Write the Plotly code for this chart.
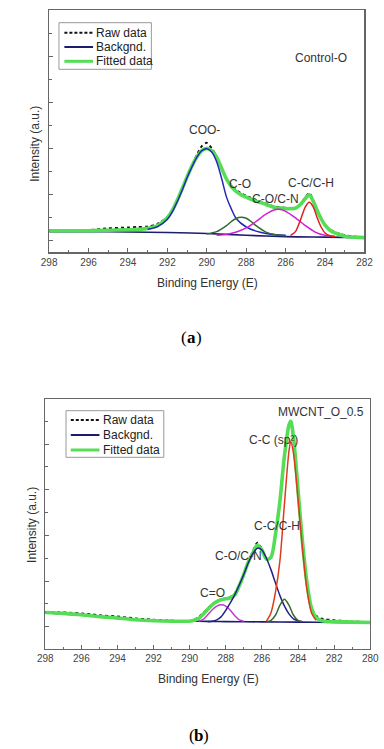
import plotly.graph_objects as go

# ---------------- (a) Control-O ----------------
xa = [298, 297, 296, 295, 294, 293.5, 293, 292.5, 292, 291.75, 291.5, 291.25, 291, 290.75, 290.5,
      290.25, 290, 289.75, 289.5, 289.25, 289, 288.75, 288.5, 288.25, 288, 287.75, 287.5, 287.25,
      287, 286.75, 286.5, 286.25, 286, 285.75, 285.5, 285.25, 285, 284.8, 284.6, 284.4, 284.2, 284,
      283.75, 283.5, 283.25, 283, 282.5, 282]
fit_a = [0.22, 0.22, 0.22, 0.23, 0.24, 0.25, 0.27, 0.33, 0.50, 0.66, 0.88, 1.13, 1.39, 1.63, 1.83,
         1.96, 2.01, 1.96, 1.82, 1.58, 1.34, 1.18, 1.07, 1.00, 0.95, 0.90, 0.86, 0.83,
         0.79, 0.75, 0.72, 0.71, 0.70, 0.70, 0.71, 0.79, 0.92, 1.00, 0.86, 0.66, 0.48, 0.34,
         0.23, 0.17, 0.13, 0.10, 0.08, 0.07]
raw_a = [0.23, 0.22, 0.23, 0.27, 0.29, 0.30, 0.31, 0.37, 0.52, 0.67, 0.88, 1.12, 1.38, 1.64, 1.87,
         2.06, 2.13, 2.01, 1.83, 1.58, 1.35, 1.21, 1.10, 1.03, 0.98, 0.93, 0.89, 0.85,
         0.81, 0.77, 0.74, 0.73, 0.72, 0.70, 0.70, 0.79, 0.94, 1.04, 0.88, 0.67, 0.48, 0.34,
         0.24, 0.19, 0.15, 0.12, 0.09, 0.08]
bg_a_x = [298, 296, 294, 292, 290, 288, 286, 284, 282]
bg_a = [0.20, 0.20, 0.19, 0.18, 0.16, 0.12, 0.09, 0.08, 0.07]

coo_x = [293, 292.5, 292, 291.75, 291.5, 291.25, 291, 290.75, 290.5, 290.25, 290, 289.75, 289.5,
         289.25, 289, 288.75, 288.5, 288, 287.5, 287, 286.5, 286]
coo_y = [0.25, 0.31, 0.47, 0.63, 0.85, 1.10, 1.37, 1.61, 1.82, 1.96, 2.00, 1.93, 1.72,
         1.36, 0.95, 0.69, 0.48, 0.30, 0.21, 0.16, 0.13, 0.12]
co_x = [290, 289.5, 289, 288.75, 288.5, 288.25, 288, 287.75, 287.5, 287, 286.5, 286]
co_y = [0.15, 0.20, 0.33, 0.42, 0.49, 0.51, 0.49, 0.42, 0.33, 0.19, 0.13, 0.11]
con_a_x = [289.5, 289, 288.5, 288, 287.5, 287, 286.5, 286.25, 286, 285.5, 285, 284.5, 284, 283.5]
con_a_y = [0.12, 0.14, 0.19, 0.28, 0.42, 0.58, 0.68, 0.68, 0.64, 0.50, 0.33, 0.19, 0.12, 0.10]
cc_a_x = [285.75, 285.5, 285.25, 285, 284.8, 284.6, 284.4, 284.2, 284, 283.75, 283.5]
cc_a_y = [0.12, 0.20, 0.45, 0.74, 0.84, 0.74, 0.50, 0.30, 0.17, 0.11, 0.09]

# ---------------- (b) MWCNT_O_0.5 ----------------
xb = [298, 297, 296, 295, 294, 293, 292, 291, 290, 289.75, 289.5, 289.25, 289, 288.75, 288.5,
      288.25, 288, 287.75, 287.5, 287.25, 287, 286.75, 286.5, 286.25, 286, 285.75, 285.5, 285.25,
      285, 284.75, 284.5, 284.4, 284.25, 284, 283.75, 283.5, 283.25, 283, 282.75, 282.5, 282, 281, 280]
fit_b = [0.31, 0.29, 0.26, 0.22, 0.19, 0.15, 0.13, 0.12, 0.12, 0.14, 0.18, 0.27, 0.38, 0.48, 0.55,
         0.59, 0.61, 0.63, 0.70, 0.90, 1.15, 1.42, 1.62, 1.79, 1.68, 1.48, 1.52, 2.02,
         2.76, 3.75, 4.42, 4.50, 4.15, 3.00, 1.85, 0.95, 0.40, 0.20, 0.14, 0.12, 0.11, 0.10, 0.09]
raw_b = [0.32, 0.31, 0.29, 0.25, 0.22, 0.18, 0.15, 0.13, 0.12, 0.15, 0.21, 0.30, 0.40, 0.49, 0.56,
         0.60, 0.62, 0.65, 0.73, 0.92, 1.16, 1.43, 1.65, 1.84, 1.70, 1.49, 1.52, 2.02,
         2.76, 3.75, 4.42, 4.50, 4.15, 3.00, 1.85, 0.95, 0.42, 0.24, 0.18, 0.16, 0.14, 0.11, 0.10]
bg_b_x = [298, 296, 294, 292, 290, 289, 288, 286, 284, 282, 280]
bg_b = [0.30, 0.25, 0.18, 0.13, 0.12, 0.115, 0.11, 0.105, 0.10, 0.09, 0.08]

ceo_x = [289.5, 289.25, 289, 288.75, 288.5, 288.25, 288, 287.75, 287.5, 287.25, 287]
ceo_y = [0.12, 0.16, 0.26, 0.37, 0.45, 0.48, 0.45, 0.36, 0.24, 0.15, 0.12]
con_b_x = [289, 288.75, 288.5, 288.25, 288, 287.75, 287.5, 287.25, 287, 286.75, 286.5, 286.25, 286,
           285.75, 285.5, 285.25, 285, 284.75, 284.5, 284.25, 284, 283.75]
con_b_y = [0.11, 0.12, 0.15, 0.22, 0.36, 0.52, 0.70, 0.92, 1.15, 1.40, 1.60, 1.72, 1.68,
           1.50, 1.25, 0.96, 0.68, 0.45, 0.28, 0.17, 0.13, 0.11]
cch_b_x = [285.75, 285.5, 285.25, 285, 284.75, 284.5, 284.25, 284, 283.75]
cch_b_y = [0.11, 0.14, 0.25, 0.47, 0.60, 0.47, 0.25, 0.14, 0.11]
sp2_x = [285.75, 285.5, 285.25, 285, 284.75, 284.5, 284.4, 284.25, 284, 283.75, 283.5, 283.25, 283]
sp2_y = [0.12, 0.30, 0.75, 1.45, 2.70, 3.85, 4.06, 3.80, 2.80, 1.70, 0.80, 0.30, 0.14]

xticks_a = [298, 296, 294, 292, 290, 288, 286, 284, 282]
xticks_b = [298, 296, 294, 292, 290, 288, 286, 284, 282, 280]
legend_labels = ["Raw data", "Backgnd.", "Fitted data"]

GREEN = "#55dd55"
NAVY = "#1c1c70"
BLACK = "#111111"
FONT = "Arial, Liberation Sans, sans-serif"
SERIF = "Liberation Serif, serif"
W, H = 384, 749


def PX(x):
    return x / W


def PY(y):
    return 1 - y / H


fig = go.Figure()


def line(x, y, color, width, xa_, ya_, dash=None):
    fig.add_trace(go.Scatter(
        x=x, y=y, mode="lines", xaxis=xa_, yaxis=ya_, showlegend=False, hoverinfo="skip",
        line=dict(color=color, width=width, dash=dash, shape="spline", smoothing=0.8)))


# (a) traces: raw underneath, then background, fit, components
line(xa, raw_a, BLACK, 2, "x", "y", dash="3px,3px")
line(bg_a_x, bg_a, NAVY, 1.6, "x", "y")
line(xa, fit_a, GREEN, 3.6, "x", "y")
line(coo_x, coo_y, "#2626b8", 1.5, "x", "y")
line(co_x, co_y, "#2f6a32", 1.5, "x", "y")
line(con_a_x, con_a_y, "#d41cd4", 1.5, "x", "y")
line(cc_a_x, cc_a_y, "#e01e1e", 1.5, "x", "y")

# (b) traces
line(xb, raw_b, BLACK, 2, "x2", "y2", dash="3px,3px")
line(bg_b_x, bg_b, NAVY, 1.6, "x2", "y2")
line(xb, fit_b, GREEN, 3.6, "x2", "y2")
line(ceo_x, ceo_y, "#c03cd0", 1.5, "x2", "y2")
line(con_b_x, con_b_y, "#22228a", 1.5, "x2", "y2")
line(cch_b_x, cch_b_y, "#3b6a2c", 1.5, "x2", "y2")
line(sp2_x, sp2_y, "#dc3a1c", 1.5, "x2", "y2")

axis_common = dict(showline=True, mirror=True, linecolor="#666", linewidth=1.2,
                   showgrid=False, zeroline=False, ticks="inside", tickcolor="#666",
                   ticklen=4, tickwidth=1)
xfont = dict(family=FONT, size=10, color="#444")

fig.update_layout(
    width=W, height=H, margin=dict(l=0, r=0, t=0, b=0),
    paper_bgcolor="white", plot_bgcolor="white", showlegend=False,
    xaxis=dict(domain=[PX(43), PX(373)], range=[298, 282], tickvals=xticks_a,
               ticktext=[str(v) for v in xticks_a], tickfont=xfont, anchor="y",
               minor=dict(dtick=1, ticks="inside", ticklen=2.5, tickcolor="#666"), **axis_common),
    yaxis=dict(domain=[PY(252.3), PY(10)], range=[-0.25, 5.02], dtick=1, showticklabels=False,
               anchor="x", minor=dict(dtick=0.5, ticks="inside", ticklen=2.5, tickcolor="#666"),
               **axis_common),
    xaxis2=dict(domain=[PX(39), PX(379)], range=[298, 280], tickvals=xticks_b,
                ticktext=[str(v) for v in xticks_b], tickfont=xfont, anchor="y2",
                minor=dict(dtick=1, ticks="inside", ticklen=2.5, tickcolor="#666"), **axis_common),
    yaxis2=dict(domain=[PY(649), PY(399)], range=[-0.49, 4.99], dtick=1, showticklabels=False,
                anchor="x2", minor=dict(dtick=0.5, ticks="inside", ticklen=2.5, tickcolor="#666"),
                **axis_common),
)

ann = []


def text(t, x, y, size=12, color="#333", angle=0, xanchor="center", family=FONT, weight="normal"):
    ann.append(dict(text=t, x=PX(x), y=PY(y), xref="paper", yref="paper", showarrow=False,
                    xanchor=xanchor, yanchor="middle", textangle=angle,
                    font=dict(family=family, size=size, color=color, weight=weight)))


def panel_label(letter, cx, cy):
    text("(", cx - 7.4, cy, size=17, color="#000", family=SERIF)
    text(letter, cx, cy, size=17, color="#000", family=SERIF, weight="bold")
    text(")", cx + 7.6, cy, size=17, color="#000", family=SERIF)


# (a) texts
text("COO-", 206, 130)
text("C-O", 243, 184)
text("C-O/C-N", 280, 199)
text("C-C/C-H", 317, 183)
text("Control-O", 328, 58)
text("Binding Energy (E)", 208.5, 283)
text("Intensity (a.u.)", 28.3, 143.7, angle=-90)
panel_label("a", 192, 337)

# (b) texts
text("MWCNT_O_0.5", 328, 412)
text("C-C (sp²)", 277.5, 440)
text("C-C/C-H", 281.7, 526)
text("C-O/C-N", 241.7, 555.7)
text("C=O", 213.7, 592.7)
text("Binding Energy (E)", 209.7, 679)
text("Intensity (a.u.)", 25, 525, angle=-90)
panel_label("b", 199.5, 735)

shapes = []


def legend_box(x0, x1, y0, y1, rows, lx0, lx1, tx):
    shapes.append(dict(type="rect", xref="paper", yref="paper", x0=PX(x0), x1=PX(x1),
                       y0=PY(y1), y1=PY(y0), line=dict(color="#999", width=1),
                       fillcolor="white", layer="above"))
    styles = [(BLACK, 2, "3px,2px"), (NAVY, 2, "solid"), (GREEN, 3, "solid")]
    for (c, w, d), ry, lab in zip(styles, rows, legend_labels):
        shapes.append(dict(type="line", xref="paper", yref="paper", x0=PX(lx0), x1=PX(lx1),
                           y0=PY(ry), y1=PY(ry), line=dict(color=c, width=w, dash=d),
                           layer="above"))
        text(lab, tx, ry, size=12, color="#222", xanchor="left")


legend_box(53.3, 150, 22.7, 69.3, [32.7, 47, 61.3], 59, 89, 89.5)
legend_box(60.7, 163, 410.7, 457.3, [420, 435, 450], 65.7, 95.7, 97.5)

fig.update_layout(annotations=ann, shapes=shapes)
fig.write_html("out.html", config={"displayModeBar": False, "staticPlot": True},
               post_script="document.body.style.margin='0';document.body.style.overflow='hidden';")
